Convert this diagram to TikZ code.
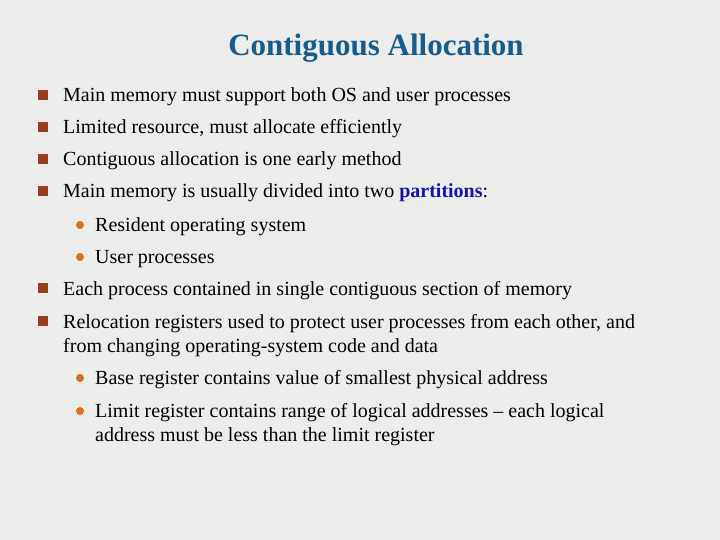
\documentclass[tikz,border=0pt]{standalone}
\usepackage{fontspec}
\setmainfont{Liberation Serif}
\definecolor{slidebg}{RGB}{236,236,234}
\definecolor{titleblue}{RGB}{22,92,140}
\definecolor{sqbrown}{RGB}{150,62,32}
\definecolor{dotorange}{RGB}{214,112,34}
\definecolor{keyblue}{RGB}{20,20,170}
\begin{document}
\begin{tikzpicture}[x=1pt,y=-1pt,
    item/.style={anchor=base west,inner sep=0pt,font=\fontsize{20}{24}\selectfont},
    sqbullet/.style={fill=sqbrown,minimum size=10pt,inner sep=0pt},
    dotbullet/.style={circle,fill=dotorange,minimum size=8pt,inner sep=0pt}]
  \fill[slidebg] (0,0) rectangle (720,540);
  \useasboundingbox (0,0) rectangle (720,540);
  \node[anchor=base,inner sep=0pt,font=\fontsize{31}{34}\selectfont\bfseries,text=titleblue] (title) at (376,56) {Contiguous Allocation};
  % first level
  \node[item] (t1) at (63,102) {Main memory must support both OS and user processes};
  \node[item] (t2) at (63,134) {Limited resource, must allocate efficiently};
  \node[item] (t3) at (63,166) {Contiguous allocation is one early method};
  \node[item] (t4) at (63,198) {Main memory is usually divided into two \textbf{\color{keyblue}partitions}:};
  \node[item] (t5) at (63,295) {Each process contained in single contiguous section of memory};
  \node[item] (t6) at (63,328) {Relocation registers used to protect user processes from each other, and};
  \node[item] (t6b) at (63,352) {from changing operating-system code and data};
  \foreach \y in {95,127,159,191,288,321}
    \node[sqbullet] at (43,\y) {};
  % second level
  \node[item] (s1) at (95,231) {Resident operating system};
  \node[item] (s2) at (95,263) {User processes};
  \node[item] (s3) at (95,384) {Base register contains value of smallest physical address};
  \node[item] (s4) at (95,417) {Limit register contains range of logical addresses -- each logical};
  \node[item] (s4b) at (95,441) {address must be less than the limit register};
  \foreach \y in {225,257,378,411}
    \node[dotbullet] at (80,\y) {};
\end{tikzpicture}
\end{document}
